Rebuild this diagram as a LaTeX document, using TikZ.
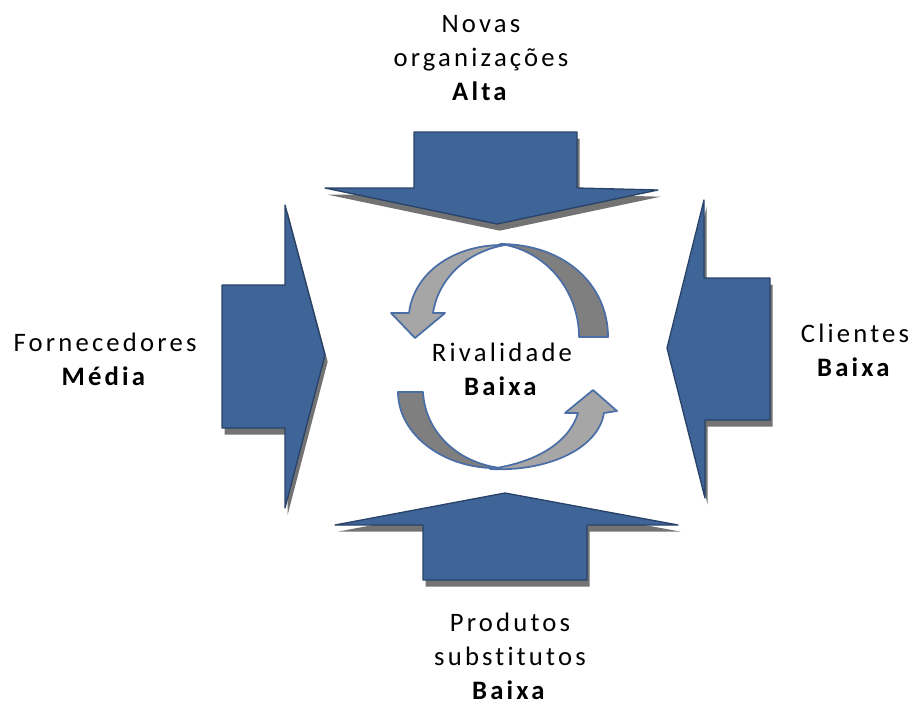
\documentclass[tikz,border=0pt]{standalone}
\usepackage{fontspec}
\setmainfont{Carlito}[LetterSpace=12, Ligatures=NoCommon]
\usetikzlibrary{shadows}
\definecolor{arrblue}{RGB}{63,101,152}
\definecolor{arredge}{RGB}{40,66,104}
\definecolor{ringedge}{RGB}{74,110,165}
\definecolor{ringlight}{RGB}{166,166,166}
\definecolor{ringdark}{RGB}{127,127,127}
\begin{document}
\begin{tikzpicture}[x=0.75pt, y=-0.75pt,
 blk/.style={fill=arrblue, draw=arredge, line width=1pt, line join=round, drop shadow={shadow xshift=2pt, shadow yshift=-5pt, fill=black, opacity=.55}},
 ring/.style={draw=ringedge, line width=1.3pt, line join=round},
 lbl/.style={align=center, inner sep=0pt, anchor=base, font=\fontsize{20}{25.5}\selectfont}]
\useasboundingbox (0,0) rectangle (914,704);
\path[blk] (414,132) -- (577,132) -- (577,188) -- (658,190) -- (497,224) -- (325,188) -- (414,188) -- cycle;
\path[blk] (222,285) -- (285,285) -- (285,205) -- (325,355) -- (285,508) -- (285,428) -- (222,428) -- cycle;
\path[blk] (770,278) -- (704,278) -- (704,200) -- (667,348) -- (705,498) -- (705,420) -- (770,420) -- cycle;
\path[blk] (423,580) -- (423,525) -- (335,525) -- (505,493) -- (678,525) -- (587,525) -- (587,580) -- cycle;
\path[ring, fill=ringdark] (579,337) -- (608,337) .. controls (608,285) and (565,244) .. (500,244) .. controls (545,250) and (579,290) .. cycle;
\path[ring, fill=ringlight] (505,245) .. controls (455,244) and (414,272) .. (409,313) -- (391,313) -- (415,338) -- (445,313) -- (433,313) .. controls (438,280) and (465,252) .. cycle;
\path[ring, fill=ringdark] (398,392) -- (423,392) .. controls (425,430) and (455,462) .. (500,468) .. controls (445,470) and (398,435) .. cycle;
\path[ring, fill=ringlight] (490,469) .. controls (545,472) and (598,450) .. (604,413) -- (617,411) -- (593,390) -- (565,413) -- (578,413) .. controls (570,440) and (540,462) .. cycle;
\node[lbl] (novas) at (481,100) {Novas\\organizações\\\textbf{Alta}};
\node[lbl] (forn) at (105,385) {Fornecedores\\\textbf{Média}};
\node[lbl] (cli) at (855,376) {Clientes\\\textbf{Baixa}};
\node[lbl] (riv) at (502,395) {Rivalidade\\\textbf{Baixa}};
\node[lbl] (prod) at (510,699) {Produtos\\substitutos\\\textbf{Baixa}};
\end{tikzpicture}
\end{document}
